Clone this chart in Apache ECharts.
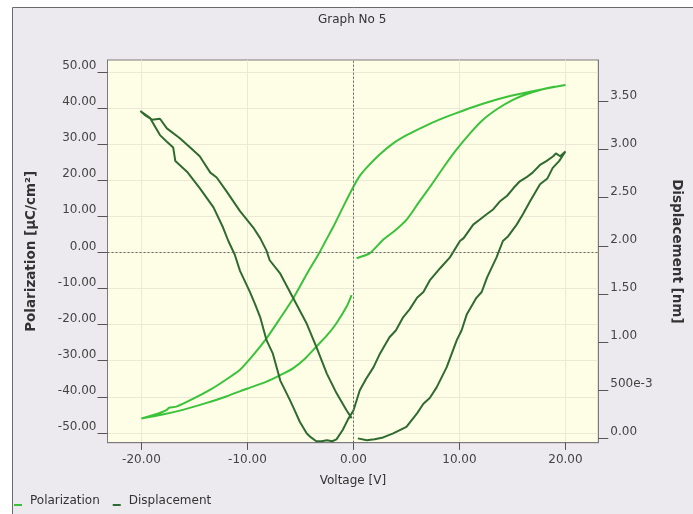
<!DOCTYPE html>
<html><head><meta charset="utf-8">
<script src="https://cdn.jsdelivr.net/npm/echarts@6/dist/echarts.min.js"></script>
<style>html,body{margin:0;padding:0;background:#fff}#c{width:693px;height:514px}</style>
</head><body><div id="c"></div>
<script>
// ---- tick labels ----
const xTicks = [-20, -10, 0, 10, 20];
const leftTicks = [-50, -40, -30, -20, -10, 0, 10, 20, 30, 40, 50];
const rightTicks = [0, 0.5, 1, 1.5, 2, 2.5, 3, 3.5];
const seriesNames = ['Polarization', 'Displacement'];

// ---- Polarization loop (voltage [V], polarization [uC/cm2]) ----
const polVoltage = [0.3, 1.56, 2.8, 3.9, 5.0, 6.2, 7.5, 8.6, 9.7, 11.0, 12.2, 13.6, 15.0, 16.3, 17.6, 18.8, 20.0,
  18.2, 16.3, 14.5, 12.9, 11.3, 9.7, 8.1, 6.6, 5.1, 3.75, 2.5, 1.25, 0.6, 0.0, -0.96, -1.9, -2.6, -3.2, -4.4, -5.7, -7.0, -8.2, -9.5, -10.7, -12.1, -13.5, -15.1, -16.7, -17.4, -17.6, -18.4, -20.0,
  -18.0, -16.1, -14.0, -12.0, -10.0, -8.2, -6.9, -5.7, -4.6, -3.5, -2.5, -1.6, -0.64, -0.17];
const polValue = [-1.6, -0.2, 3.5, 6.0, 9.0, 14.0, 19.3, 24.0, 28.4, 33.0, 36.7, 39.8, 42.2, 43.8, 45.0, 45.8, 46.4,
  45.4, 44.3, 43.1, 41.8, 40.3, 38.6, 36.8, 34.8, 32.6, 30.2, 27.2, 23.5, 21.2, 18.2, 12.7, 7.1, 3.3, 0.0, -6.0, -12.8, -18.6, -23.8, -28.6, -32.5, -35.4, -38.0, -40.5, -42.7, -43.0, -43.6, -44.6, -46.0,
  -44.9, -43.6, -41.8, -39.9, -37.7, -35.8, -34.0, -32.1, -29.5, -26.1, -23.0, -19.6, -15.0, -11.8];

// ---- Displacement butterfly (voltage [V], displacement [nm]) ----
const dispVoltage = [0.42, 1.27, 2.0, 2.8, 3.7, 5.0, 6.0, 6.6, 7.2, 7.85, 8.8, 9.75, 10.2, 10.7, 11.6, 12.1, 12.6, 13.5, 14.1, 14.6, 15.4, 16.0, 16.65, 17.6, 18.3, 18.8, 19.4, 20.0,
  19.5, 19.1, 18.85, 18.2, 17.6, 16.9, 16.3, 15.7, 15.1, 14.5, 13.8, 13.2, 12.6, 11.9, 11.3, 10.4, 10.05, 9.1, 8.2, 7.2, 6.6, 6.0, 5.3, 4.7, 4.0, 3.4, 2.5, 1.9, 1.2, 0.6, 0.0, -0.5, -1.0, -1.6, -2.0, -2.5, -3.0, -3.5, -4.0, -4.4, -5.05, -5.5, -6.0, -6.9, -7.6, -8.2, -8.8, -9.3, -9.8, -10.7, -11.2, -11.8, -12.3, -13.2, -14.5, -15.7, -16.8, -17.0, -17.6, -18.25, -19.2, -20.1,
  -19.7, -19.0, -18.25, -17.6, -16.4, -15.4, -14.5, -13.5, -12.9, -12.0, -10.7, -9.45, -8.8, -8.2, -7.9, -6.9, -5.7, -4.4, -3.5, -2.5, -1.6, -0.64, -0.17];
const dispValue = [0.00, -0.02, -0.01, 0.01, 0.05, 0.12, 0.26, 0.36, 0.42, 0.53, 0.74, 1.02, 1.12, 1.29, 1.46, 1.52, 1.67, 1.88, 2.05, 2.10, 2.22, 2.33, 2.46, 2.64, 2.70, 2.81, 2.88, 2.98,
  2.93, 2.96, 2.93, 2.88, 2.84, 2.76, 2.71, 2.67, 2.60, 2.52, 2.46, 2.38, 2.33, 2.27, 2.22, 2.08, 2.05, 1.88, 1.77, 1.64, 1.52, 1.46, 1.34, 1.26, 1.12, 1.05, 0.88, 0.74, 0.62, 0.50, 0.29, 0.20, 0.09, -0.01, -0.03, -0.02, -0.03, -0.03, 0.01, 0.05, 0.17, 0.28, 0.40, 0.60, 0.88, 1.02, 1.26, 1.40, 1.53, 1.74, 1.91, 2.05, 2.19, 2.40, 2.60, 2.77, 2.88, 3.02, 3.08, 3.15, 3.33, 3.40,
  3.36, 3.31, 3.32, 3.22, 3.12, 3.02, 2.93, 2.76, 2.71, 2.57, 2.36, 2.19, 2.08, 1.95, 1.85, 1.71, 1.46, 1.19, 0.95, 0.67, 0.47, 0.29, 0.21];

const polData = polVoltage.map((v, i) => [v, polValue[i]]);
const dispData = dispVoltage.map((v, i) => [v, dispValue[i]]);

const FONT = 'DejaVu Sans';
const POL_COLOR = '#3BC23B';
const DISP_COLOR = '#2F6B30';
const FRAME = '#7a7a7a';
const TICK = '#555';
const X_MIN = -23.2, X_MAX = 23.1, P_MIN = -52.7, P_MAX = 53.3, D_MIN = -0.045, D_MAX = 3.93;
const labelStyle = { fontFamily: FONT, fontSize: 12, color: '#444' };
const nameStyle = { fontFamily: FONT, fontSize: 13.5, fontWeight: 'bold', color: '#333' };

const chart = echarts.init(document.getElementById('c'), null, { renderer: 'canvas' });
chart.setOption({
  animation: false,
  backgroundColor: '#ffffff',
  title: { text: 'Graph No 5', left: 318, top: 14, padding: 0,
    textStyle: { fontFamily: FONT, fontSize: 12, fontWeight: 'normal', color: '#333' } },
  graphic: { elements: [
    { type: 'rect', z: -100, silent: true, shape: { x: 12.5, y: 7.5, width: 700, height: 520 },
      style: { fill: '#ECE9EF', stroke: '#6a6a6a', lineWidth: 1 } }
  ] },
  legend: {
    left: 14, top: 495, padding: 0, itemWidth: 11, itemHeight: 10, itemGap: 13,
    icon: 'path://M11,0 M0,0 M0,8 L8,8 L8,10 L0,10 Z',
    itemStyle: { borderWidth: 0 },
    textStyle: { fontFamily: FONT, fontSize: 12, color: '#333' },
    data: seriesNames
  },
  grid: { left: 107.5, top: 60, right: 94.7, bottom: 71.3, show: true,
    backgroundColor: '#FEFEE6', borderColor: FRAME, borderWidth: 1,
    containLabel: false, outerBoundsMode: 'none' },
  xAxis: {
    type: 'value', min: X_MIN, max: X_MAX, position: 'bottom',
    axisLine: { show: true, onZero: false, lineStyle: { color: FRAME, width: 1 } },
    axisTick: { show: true, inside: false, length: 7, customValues: xTicks, lineStyle: { color: TICK, width: 1 } },
    axisLabel: Object.assign({ customValues: xTicks, margin: 11, formatter: v => Number(v).toFixed(2) }, labelStyle),
    splitLine: { show: true, lineStyle: { color: '#E9E9D6', width: 1 } },
    name: 'Voltage [V]', nameLocation: 'middle', nameGap: 32, nameMoveOverlap: false,
    nameTextStyle: { fontFamily: FONT, fontSize: 12, color: '#333' }
  },
  yAxis: [
    {
      type: 'value', min: P_MIN, max: P_MAX, position: 'left',
      axisLine: { show: true, onZero: false, lineStyle: { color: FRAME, width: 1 } },
      axisTick: { show: true, length: 10, customValues: leftTicks, lineStyle: { color: TICK } },
      axisLabel: Object.assign({ customValues: leftTicks, margin: 11, verticalAlign: 'bottom', lineHeight: 12,
        formatter: v => Number(v).toFixed(2) }, labelStyle),
      splitLine: { show: true, lineStyle: { color: '#E9E9D6', width: 1 } },
      name: 'Polarization [µC/cm²]', nameLocation: 'middle', nameRotate: 90, nameGap: 69, nameMoveOverlap: false,
      nameTextStyle: nameStyle
    },
    {
      type: 'value', min: D_MIN, max: D_MAX, position: 'right',
      axisLine: { show: true, onZero: false, lineStyle: { color: FRAME, width: 1 } },
      axisTick: { show: true, length: 10, customValues: rightTicks, lineStyle: { color: TICK } },
      axisLabel: Object.assign({ customValues: rightTicks, margin: 12, verticalAlign: 'bottom', lineHeight: 12,
        formatter: v => (Math.abs(v - 0.5) < 1e-9 ? '500e-3' : Number(v).toFixed(2)) }, labelStyle),
      splitLine: { show: false },
      name: 'Displacement [nm]', nameLocation: 'middle', nameRotate: -90, nameGap: 71, nameMoveOverlap: false,
      nameTextStyle: nameStyle
    }
  ],
  series: [
    {
      name: seriesNames[0], type: 'line', xAxisIndex: 0, yAxisIndex: 0, data: polData,
      showSymbol: false, symbol: 'none', smooth: 0.2, color: POL_COLOR,
      lineStyle: { color: POL_COLOR, width: 2 }, itemStyle: { color: POL_COLOR },
      markLine: { silent: true, symbol: ['none', 'none'], label: { show: false },
        lineStyle: { color: '#666', type: [2, 2], width: 1 },
        data: [{ xAxis: 0 }, { yAxis: 0 }] }
    },
    {
      name: seriesNames[1], type: 'line', xAxisIndex: 0, yAxisIndex: 1, data: dispData,
      showSymbol: false, symbol: 'none', smooth: false, color: DISP_COLOR,
      lineStyle: { color: DISP_COLOR, width: 2 }, itemStyle: { color: DISP_COLOR }
    },
    {
      // voltage-axis tick marks below the plot, placed through the x scale
      name: 'xTickMarks', type: 'custom', xAxisIndex: 0, yAxisIndex: 0, silent: true, clip: false,
      data: xTicks.map(v => [v, P_MIN]),
      renderItem: (params, api) => {
        const p = api.coord([api.value(0), api.value(1)]);
        return { type: 'line', shape: { x1: Math.round(p[0]) + 0.5, y1: p[1], x2: Math.round(p[0]) + 0.5, y2: p[1] + 7 },
          style: { stroke: TICK, lineWidth: 1 } };
      }
    }
  ]
});
</script></body></html>
